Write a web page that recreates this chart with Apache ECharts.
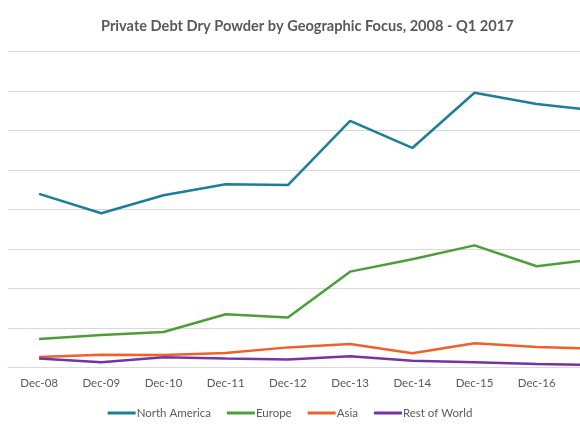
<!DOCTYPE html>
<html>
<head>
<meta charset="utf-8">
<script src="https://cdn.jsdelivr.net/npm/echarts@6/dist/echarts.min.js"></script>
<style>
  html, body { margin: 0; padding: 0; background: #fff; }
  #chart { width: 580px; height: 435px; }
</style>
</head>
<body>
<div id="chart"></div>
<script>
// quarters on the x axis (the last one runs off the right edge)
var categories = ['Dec-08', 'Dec-09', 'Dec-10', 'Dec-11', 'Dec-12', 'Dec-13', 'Dec-14', 'Dec-15', 'Dec-16', 'Mar-17'];

// dry powder, $bn
var northAmerica = [87.9, 78.1, 87.2, 92.8, 92.4, 124.9, 111.2, 139.2, 133.5, 130.0];
var europe       = [14.3, 16.4, 17.9, 26.9, 25.3, 48.5, 54.8, 61.8, 51.2, 55.0];
var asia         = [5.2, 6.4, 6.2, 7.2, 10.1, 11.8, 7.1, 12.2, 10.3, 9.3];
var restOfWorld  = [4.4, 2.5, 5.1, 4.4, 3.9, 5.6, 3.3, 2.5, 1.7, 1.2];

var chart = echarts.init(document.getElementById('chart'));

function lineSeries(name, data, color) {
  return {
    name: name,
    type: 'line',
    data: data,
    symbol: 'none',
    smooth: false,
    lineStyle: { color: color, width: 2.5 },
    itemStyle: { color: color }
  };
}

chart.setOption({
  backgroundColor: '#fff',
  animation: false,
  title: {
    text: 'Private Debt Dry Powder by Geographic Focus, 2008 - Q1 2017',
    left: 96,
    top: 14,
    textStyle: {
      fontFamily: 'Lato',
      fontSize: 14.6,
      fontWeight: 'bold',
      color: '#595959'
    }
  },
  legend: {
    left: 'center',
    top: 402,
    itemWidth: 28,
    itemHeight: 3,
    itemGap: 16,
    icon: 'rect',
    textStyle: {
      fontFamily: 'Lato',
      fontSize: 11.5,
      color: '#595959',
      padding: [0, 0, 0, -4]
    },
    data: ['North America', 'Europe', 'Asia', 'Rest of World']
  },
  grid: {
    left: 8,
    width: 622,
    top: 51.7,
    height: 315.6,
    containLabel: false,
    outerBoundsMode: 'none'
  },
  xAxis: {
    type: 'category',
    data: categories,
    boundaryGap: true,
    axisLine: { lineStyle: { color: '#d9d9d9', width: 1 } },
    axisTick: { show: false },
    axisLabel: {
      fontFamily: 'Lato',
      fontSize: 11.5,
      color: '#595959',
      margin: 10
    }
  },
  yAxis: {
    type: 'value',
    min: 0,
    max: 160,
    interval: 20,
    axisLine: { show: false },
    axisTick: { show: false },
    axisLabel: { show: false },
    splitLine: { lineStyle: { color: '#d9d9d9', width: 1 } }
  },
  series: [
    lineSeries('North America', northAmerica, '#1b7f99'),
    lineSeries('Europe', europe, '#4c9f38'),
    lineSeries('Asia', asia, '#f0612a'),
    lineSeries('Rest of World', restOfWorld, '#7434a6')
  ]
});
</script>
</body>
</html>
